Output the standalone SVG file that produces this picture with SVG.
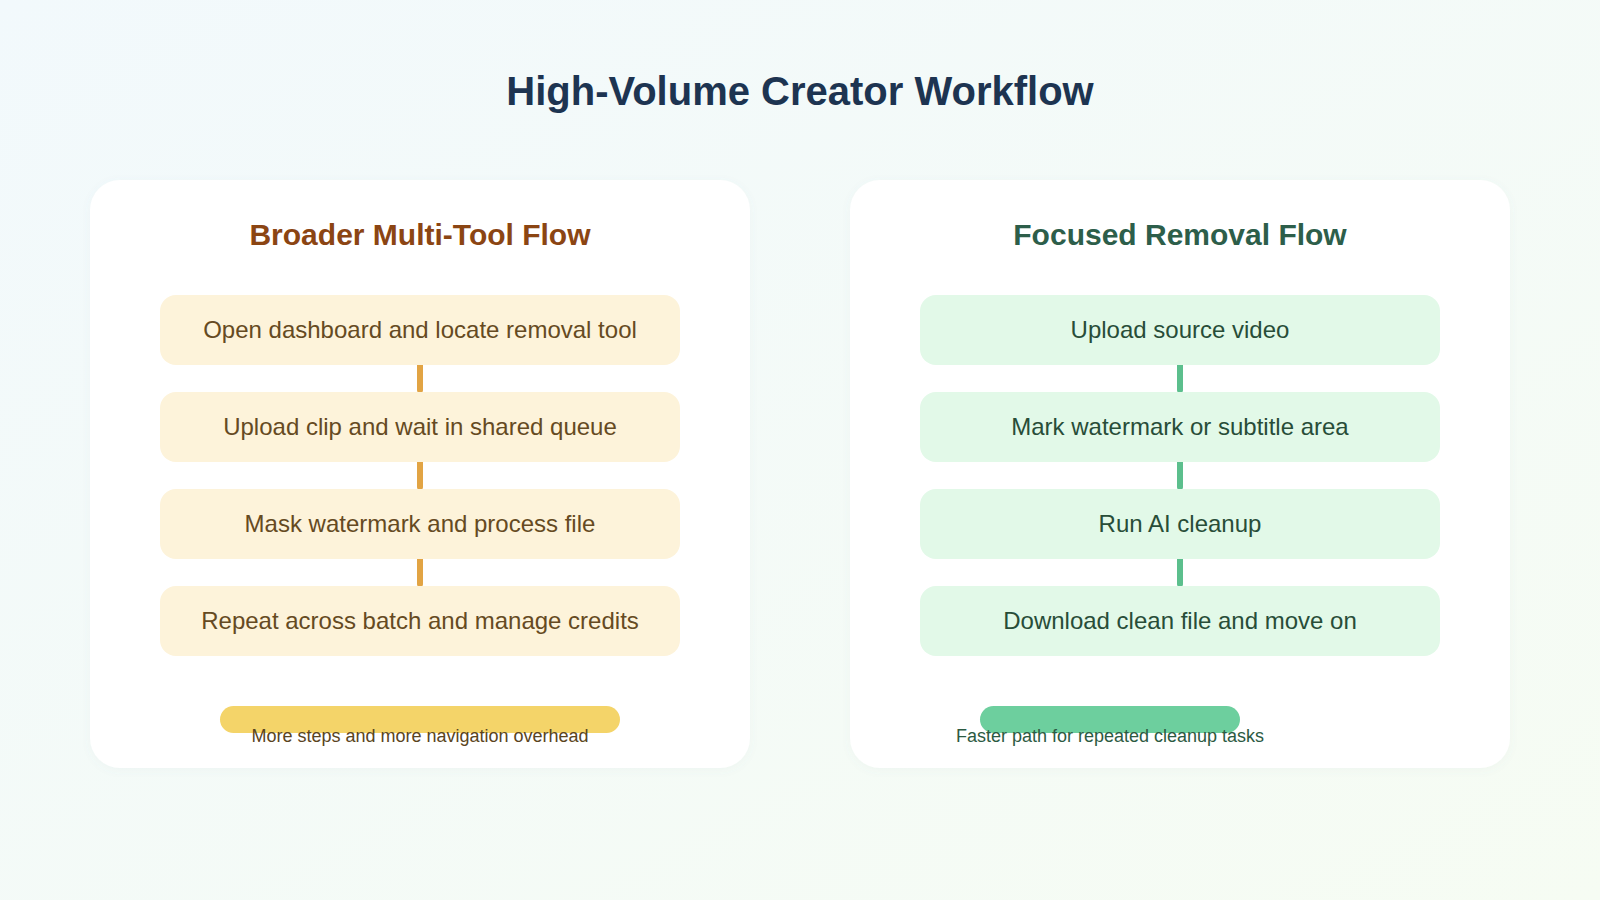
<svg xmlns="http://www.w3.org/2000/svg" width="1600" height="900" viewBox="0 0 1600 900">
<defs>
<linearGradient id="bg" x1="0" y1="0" x2="1" y2="1">
<stop offset="0" stop-color="#f2f9fc"/>
<stop offset="1" stop-color="#f6fcf3"/>
</linearGradient>
<filter id="sh" x="-10%" y="-10%" width="120%" height="120%">
<feDropShadow dx="0" dy="2" stdDeviation="4" flood-color="#6a8a9a" flood-opacity="0.05"/>
</filter>
</defs>
<style>
text{font-family:"Liberation Sans",Arial,Helvetica,sans-serif;text-anchor:middle}
.title{font-size:40px;font-weight:bold;fill:#1d3451}
.panel{fill:#ffffff}
.h-l{font-size:30px;font-weight:bold;fill:#8b4513}
.h-r{font-size:30px;font-weight:bold;fill:#2d5e4a}
.n-l rect{fill:#fdf3da}
.n-l text{font-size:24px;fill:#654a22}
.n-r rect{fill:#e2f9e8}
.n-r text{font-size:24px;fill:#284d38}
.c-l line{stroke:#e2a444;stroke-width:6;stroke-linecap:round}
.c-r line{stroke:#5cbf8d;stroke-width:6;stroke-linecap:round}
.note{font-size:18px}
</style>
<rect width="1600" height="900" fill="url(#bg)"/>
<text class="title" x="800" y="105">High-Volume Creator Workflow</text>

<g id="panel-left">
<rect class="panel" x="90" y="180" width="660" height="588" rx="30" filter="url(#sh)"/>
<text class="h-l" x="420" y="245">Broader Multi-Tool Flow</text>
</g>
<g id="panel-right">
<rect class="panel" x="850" y="180" width="660" height="588" rx="30" filter="url(#sh)"/>
<text class="h-r" x="1180" y="245">Focused Removal Flow</text>
</g>

<g id="connectors">
<g class="c-l">
<line x1="420" y1="365" x2="420" y2="390"/>
<line x1="420" y1="462" x2="420" y2="487"/>
<line x1="420" y1="559" x2="420" y2="584"/>
</g>
<g class="c-r">
<line x1="1180" y1="365" x2="1180" y2="390"/>
<line x1="1180" y1="462" x2="1180" y2="487"/>
<line x1="1180" y1="559" x2="1180" y2="584"/>
</g>
</g>

<g id="l1" class="n-l"><rect x="160" y="295" width="520" height="70" rx="16"/><text x="420" y="338">Open dashboard and locate removal tool</text></g>
<g id="l2" class="n-l"><rect x="160" y="392" width="520" height="70" rx="16"/><text x="420" y="435">Upload clip and wait in shared queue</text></g>
<g id="l3" class="n-l"><rect x="160" y="489" width="520" height="70" rx="16"/><text x="420" y="532">Mask watermark and process file</text></g>
<g id="l4" class="n-l"><rect x="160" y="586" width="520" height="70" rx="16"/><text x="420" y="629">Repeat across batch and manage credits</text></g>

<g id="r1" class="n-r"><rect x="920" y="295" width="520" height="70" rx="16"/><text x="1180" y="338">Upload source video</text></g>
<g id="r2" class="n-r"><rect x="920" y="392" width="520" height="70" rx="16"/><text x="1180" y="435">Mark watermark or subtitle area</text></g>
<g id="r3" class="n-r"><rect x="920" y="489" width="520" height="70" rx="16"/><text x="1180" y="532">Run AI cleanup</text></g>
<g id="r4" class="n-r"><rect x="920" y="586" width="520" height="70" rx="16"/><text x="1180" y="629">Download clean file and move on</text></g>

<g id="note-left">
<rect x="220" y="706" width="400" height="27" rx="13.5" fill="#f4d469"/>
<text class="note" x="420" y="742" fill="#5a4420">More steps and more navigation overhead</text>
</g>
<g id="note-right">
<rect x="980" y="706" width="260" height="27" rx="13.5" fill="#6dcf9e"/>
<text class="note" x="1110" y="742" fill="#2c5a42">Faster path for repeated cleanup tasks</text>
</g>
</svg>
